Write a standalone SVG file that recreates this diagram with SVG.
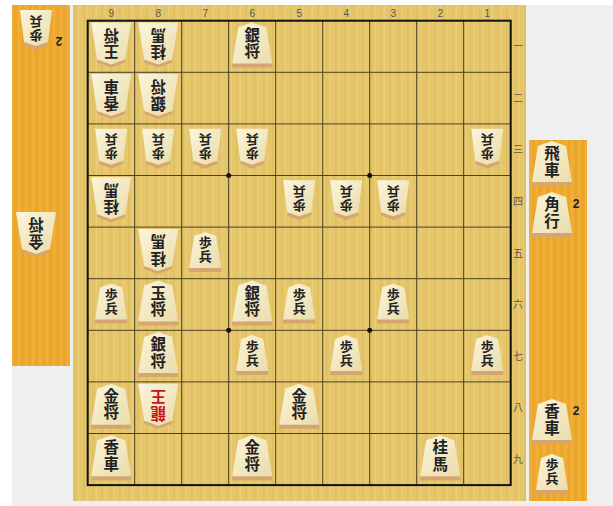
<svg xmlns="http://www.w3.org/2000/svg" width="613" height="506" viewBox="0 0 613 506">
<defs>
<style>
.lbl{font-family:"Liberation Sans",Arial,sans-serif;font-size:10px;fill:#555;text-anchor:middle}
.rl{font-family:"Noto Sans CJK JP",sans-serif;font-size:10px;fill:#555;text-anchor:middle}
.pt{font-family:"Noto Sans CJK JP","Noto Sans CJK SC",sans-serif;font-weight:700;font-size:15.5px;fill:#222;text-anchor:middle;writing-mode:tb;letter-spacing:1px}
.ps{font-family:"Noto Sans CJK JP","Noto Sans CJK SC",sans-serif;font-weight:700;font-size:13px;fill:#222;text-anchor:middle;writing-mode:tb;letter-spacing:1px}
.red{fill:#c8141e}
.cnt{font-family:"Liberation Sans",Arial,sans-serif;font-size:12px;font-weight:700;fill:#222;text-anchor:middle}
.grid{stroke:#4a3f25;stroke-width:1;fill:none}
.face{fill:url(#fg)}
.band{fill:#d6a672}
</style>
<linearGradient id="fg" x1="0" y1="0" x2="1" y2="1">
<stop offset="0" stop-color="#fbf5dc"/>
<stop offset="1" stop-color="#eadcaa"/>
</linearGradient>
<pattern id="wood" width="9" height="10" patternUnits="userSpaceOnUse">
<rect width="9" height="10" fill="#e6c66a"/>
<rect x="2" width="1.5" height="10" fill="#dcba5c" opacity="0.6"/>
<rect x="6" width="1" height="10" fill="#efd482" opacity="0.6"/>
</pattern>
<pattern id="dai" width="7" height="10" patternUnits="userSpaceOnUse">
<rect width="7" height="10" fill="#eeaa30"/>
<rect x="1" width="1.5" height="10" fill="#e59d22" opacity="0.6"/>
<rect x="4.5" width="1" height="10" fill="#f4bb48" opacity="0.6"/>
</pattern>
<g id="sb">
<path class="band" d="M-20,17 L20,17 L20,22 L-20,22 Z"/>
<path class="face" d="M0,-23 L14,-18 L20,18 L-20,18 L-14,-18 Z"/>
</g>
<g id="gb">
<path class="band" d="M-14,13 L0,18 L14,13 L14,17 L0,22 L-14,17 Z"/>
<path class="face" d="M-20,-23 L20,-23 L14,14 L0,19 L-14,14 Z"/>
</g>
<g id="sp">
<path class="band" d="M-16,15 L16,15 L16,20 L-16,20 Z"/>
<path class="face" d="M0,-20 L11,-16 L16,16 L-16,16 L-11,-16 Z"/>
</g>
<g id="gp">
<path class="band" d="M-12,11 L0,15 L12,11 L12,15 L0,20 L-12,15 Z"/>
<path class="face" d="M-16,-20 L16,-20 L12,12 L0,16 L-12,12 Z"/>
</g>
</defs>

<rect width="613" height="506" fill="#ffffff"/>
<rect x="12" y="5" width="601" height="501" fill="#efefef"/>

<g id="komadai-gote">
<rect x="12" y="5" width="58" height="361" fill="url(#dai)"/>
</g>
<g id="komadai-sente">
<rect x="529" y="140" width="58" height="361" fill="url(#dai)"/>
</g>
<g id="board">
<rect x="73" y="5" width="453" height="496" fill="url(#wood)"/>
</g>

<g id="grid">
<path class="grid" d="M134.7,20.7V485.1M181.7,20.7V485.1M228.7,20.7V485.1M275.7,20.7V485.1M322.7,20.7V485.1M369.7,20.7V485.1M416.7,20.7V485.1M463.7,20.7V485.1"/>
<path class="grid" d="M87.7,72.3H510.7M87.7,123.9H510.7M87.7,175.5H510.7M87.7,227.1H510.7M87.7,278.7H510.7M87.7,330.3H510.7M87.7,381.9H510.7M87.7,433.5H510.7"/>
<rect x="87.7" y="20.7" width="423" height="464.4" fill="none" stroke="#111" stroke-width="2"/>
<circle cx="228.7" cy="175.5" r="2.5" fill="#111"/>
<circle cx="369.7" cy="175.5" r="2.5" fill="#111"/>
<circle cx="228.7" cy="330.3" r="2.5" fill="#111"/>
<circle cx="369.7" cy="330.3" r="2.5" fill="#111"/>
</g>

<g id="labels">
<text class="lbl" x="111.2" y="17">9</text>
<text class="lbl" x="158.2" y="17">8</text>
<text class="lbl" x="205.2" y="17">7</text>
<text class="lbl" x="252.2" y="17">6</text>
<text class="lbl" x="299.2" y="17">5</text>
<text class="lbl" x="346.2" y="17">4</text>
<text class="lbl" x="393.2" y="17">3</text>
<text class="lbl" x="440.2" y="17">2</text>
<text class="lbl" x="487.2" y="17">1</text>
<text class="rl" x="518" y="50">一</text>
<text class="rl" x="518" y="102">二</text>
<text class="rl" x="518" y="153">三</text>
<text class="rl" x="518" y="205">四</text>
<text class="rl" x="518" y="257">五</text>
<text class="rl" x="518" y="308">六</text>
<text class="rl" x="518" y="360">七</text>
<text class="rl" x="518" y="411">八</text>
<text class="rl" x="518" y="463">九</text>
</g>

<g id="pieces">
<g id="p91" transform="translate(111.2,45.5)"><use href="#gb"/><text class="pt" transform="rotate(180 0 -2)" y="-2">王将</text></g>
<g id="p81" transform="translate(158.2,45.5)"><use href="#gb"/><text class="pt" transform="rotate(180 0 -2)" y="-2">桂馬</text></g>
<g id="p61" transform="translate(252.2,45.5)"><use href="#sb"/><text class="pt" y="-2">銀将</text></g>
<g id="p92" transform="translate(111.2,97.1)"><use href="#gb"/><text class="pt" transform="rotate(180 0 -2)" y="-2">香車</text></g>
<g id="p82" transform="translate(158.2,97.1)"><use href="#gb"/><text class="pt" transform="rotate(180 0 -2)" y="-2">銀将</text></g>
<g id="p93" transform="translate(111.2,148.7)"><use href="#gp"/><text class="ps" transform="rotate(180 0 -2)" y="-2">歩兵</text></g>
<g id="p83" transform="translate(158.2,148.7)"><use href="#gp"/><text class="ps" transform="rotate(180 0 -2)" y="-2">歩兵</text></g>
<g id="p73" transform="translate(205.2,148.7)"><use href="#gp"/><text class="ps" transform="rotate(180 0 -2)" y="-2">歩兵</text></g>
<g id="p63" transform="translate(252.2,148.7)"><use href="#gp"/><text class="ps" transform="rotate(180 0 -2)" y="-2">歩兵</text></g>
<g id="p13" transform="translate(487.2,148.7)"><use href="#gp"/><text class="ps" transform="rotate(180 0 -2)" y="-2">歩兵</text></g>
<g id="p94" transform="translate(111.2,200.3)"><use href="#gb"/><text class="pt" transform="rotate(180 0 -2)" y="-2">桂馬</text></g>
<g id="p54" transform="translate(299.2,200.3)"><use href="#gp"/><text class="ps" transform="rotate(180 0 -2)" y="-2">歩兵</text></g>
<g id="p44" transform="translate(346.2,200.3)"><use href="#gp"/><text class="ps" transform="rotate(180 0 -2)" y="-2">歩兵</text></g>
<g id="p34" transform="translate(393.2,200.3)"><use href="#gp"/><text class="ps" transform="rotate(180 0 -2)" y="-2">歩兵</text></g>
<g id="p85" transform="translate(158.2,251.9)"><use href="#gb"/><text class="pt" transform="rotate(180 0 -2)" y="-2">桂馬</text></g>
<g id="p75" transform="translate(205.2,251.9)"><use href="#sp"/><text class="ps" y="-2">歩兵</text></g>
<g id="p96" transform="translate(111.2,303.5)"><use href="#sp"/><text class="ps" y="-2">歩兵</text></g>
<g id="p86" transform="translate(158.2,303.5)"><use href="#sb"/><text class="pt" y="-2">玉将</text></g>
<g id="p66" transform="translate(252.2,303.5)"><use href="#sb"/><text class="pt" y="-2">銀将</text></g>
<g id="p56" transform="translate(299.2,303.5)"><use href="#sp"/><text class="ps" y="-2">歩兵</text></g>
<g id="p36" transform="translate(393.2,303.5)"><use href="#sp"/><text class="ps" y="-2">歩兵</text></g>
<g id="p87" transform="translate(158.2,355.1)"><use href="#sb"/><text class="pt" y="-2">銀将</text></g>
<g id="p67" transform="translate(252.2,355.1)"><use href="#sp"/><text class="ps" y="-2">歩兵</text></g>
<g id="p47" transform="translate(346.2,355.1)"><use href="#sp"/><text class="ps" y="-2">歩兵</text></g>
<g id="p17" transform="translate(487.2,355.1)"><use href="#sp"/><text class="ps" y="-2">歩兵</text></g>
<g id="p98" transform="translate(111.2,406.7)"><use href="#sb"/><text class="pt" y="-2">金将</text></g>
<g id="p88" transform="translate(158.2,406.7)"><use href="#gb"/><text class="pt red" transform="rotate(180 0 -2)" y="-2">龍王</text></g>
<g id="p58" transform="translate(299.2,406.7)"><use href="#sb"/><text class="pt" y="-2">金将</text></g>
<g id="p99" transform="translate(111.2,458.3)"><use href="#sb"/><text class="pt" y="-2">香車</text></g>
<g id="p69" transform="translate(252.2,458.3)"><use href="#sb"/><text class="pt" y="-2">金将</text></g>
<g id="p29" transform="translate(440.2,458.3)"><use href="#sb"/><text class="pt" y="-2">桂馬</text></g>
</g>

<g id="hand-gote">
<g id="gh-fu" transform="translate(36,30)"><use href="#gp"/><text class="ps" transform="rotate(180 0 -2)" y="-2">歩兵</text></g>
<text class="cnt" transform="rotate(180 59 41)" x="59" y="45">2</text>
<g id="gh-kin" transform="translate(36,235)"><use href="#gb"/><text class="pt" transform="rotate(180 0 -2)" y="-2">金将</text></g>
</g>

<g id="hand-sente">
<g id="sh-hi" transform="translate(552,164)"><use href="#sb"/><text class="pt" y="-2">飛車</text></g>
<g id="sh-kaku" transform="translate(552,215)"><use href="#sb"/><text class="pt" y="-2">角行</text></g>
<text class="cnt" x="576" y="208">2</text>
<g id="sh-kyo" transform="translate(552,422)"><use href="#sb"/><text class="pt" y="-2">香車</text></g>
<text class="cnt" x="576" y="415">2</text>
<g id="sh-fu" transform="translate(552,474)"><use href="#sp"/><text class="ps" y="-2">歩兵</text></g>
</g>
</svg>
